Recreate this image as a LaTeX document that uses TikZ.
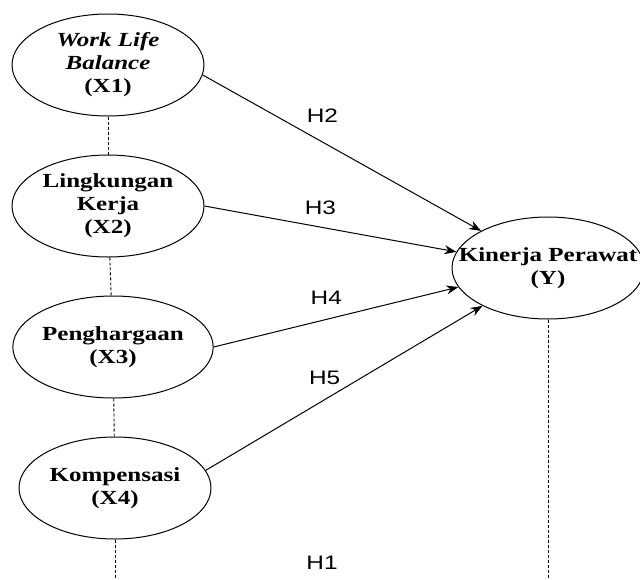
\documentclass[tikz,border=0pt]{standalone}
\usepackage{fontspec}
\usetikzlibrary{shapes.geometric,arrows.meta}
\newfontfamily\varfont[FakeStretch=1.25]{Liberation Serif}
\newfontfamily\hypfont[FakeStretch=1.25]{Liberation Sans}
\newcommand\latentfont{\varfont\bfseries\fontsize{20}{23}\selectfont}

\begin{document}
\begin{tikzpicture}[x=1pt,y=-1pt,>={Stealth[length=12pt,width=9pt]},node distance=141pt,
  latent/.style={ellipse,draw,line width=1pt,minimum width=192pt,minimum height=102pt,inner sep=0pt,align=center,font=\latentfont},
  hyp/.style={font=\hypfont\fontsize{19.5}{22}\selectfont,inner sep=0pt},
  effect/.style={->,line width=1pt},
  link/.style={dash pattern=on 3pt off 2pt,line width=0.9pt}]
  \useasboundingbox (0,0) rectangle (640,579);

  \node[latent] (x1) at (108,65) {\textit{Work Life}\\\textit{Balance}\\(X1)};
  \node[latent] (x2) [below of=x1] {Lingkungan\\Kerja\\(X2)};
  \node[latent] (x3) [below of=x2, xshift=5pt] {Penghargaan\\(X3)};
  \node[latent] (x4) [below of=x3, xshift=2pt] {Kompensasi\\(X4)};
  \node[latent] (y) at (548,268) [label={[align=center,font=\latentfont]center:Kinerja Perawat\\(Y)}] {};
  \coordinate (bot) at (0,579);

  % hypotheses
  \draw[effect] (x1.-6) -- (y.151) node[hyp,pos=.43,yshift=26pt] {H2};
  \draw[effect] (x2.east) -- (y.170) node[hyp,pos=.46,yshift=19pt] {H3};
  \draw[effect] (x3.east) -- (y.192) node[hyp,pos=.46,yshift=22pt] {H4};
  \draw[effect] (x4.11) -- (y.210) node[hyp,pos=.43,yshift=22pt] {H5};

  \draw[link] (x1) -- (x2);
  \draw[link] (x2) -- (x3);
  \draw[link] (x3) -- (x4);
  \draw[link] (x4) -- (x4 |- bot);
  \draw[link] (y) -- (y |- bot);
  \node[hyp] (h1) at (322,563) {H1};
\end{tikzpicture}
\end{document}
